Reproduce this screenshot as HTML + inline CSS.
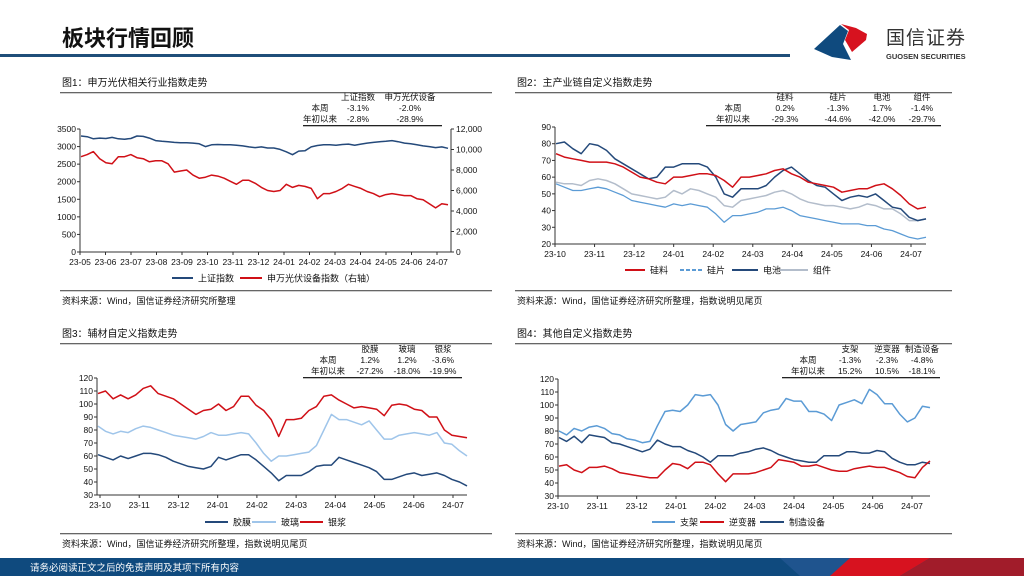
<!DOCTYPE html>
<html><head><meta charset="utf-8"><style>
html,body{margin:0;padding:0;background:#fff;}
svg{display:block;font-family:"Liberation Sans","Noto Sans CJK SC",sans-serif;}
</style></head><body>
<svg id="page" width="1024" height="576" viewBox="0 0 1024 576" xmlns="http://www.w3.org/2000/svg">
<g>
<text x="62" y="46" font-size="22" font-weight="bold" fill="#111">板块行情回顾</text>
<rect x="0" y="54" width="790" height="3" fill="#1f4e79"/>
<g>
<polygon points="814,49 840,25 848,31 843,44 851,60 832,57" fill="#0f4a7e"/>
<polygon points="841,24 856,28 867,34 866,40 852,52 845,40 849,30" fill="#d7121f"/>
<text x="886" y="44" font-size="19" fill="#333" letter-spacing="1">国信证券</text>
<text x="886" y="59" font-size="7.5" fill="#333" font-weight="bold">GUOSEN SECURITIES</text>
</g>
</g>
<g id="charts"></g>
<g>
<rect x="0" y="558" width="1024" height="18" fill="#0f4a7e"/>
<polygon points="780,558 860,558 880,576 800,576" fill="#2a5c9a" opacity="0.6"/>
<polygon points="850,558 930,558 900,576 830,576" fill="#d7121f"/>
<polygon points="930,558 1024,558 1024,576 900,576" fill="#a11c2a"/>
<text x="30" y="571" font-size="9.5" fill="#fff">请务必阅读正文之后的免责声明及其项下所有内容</text>
</g>
</svg>
<script>
// ---- Chart 1 data ----
const c1Ticks = ["23-05","23-06","23-07","23-08","23-09","23-10","23-11","23-12","24-01","24-02","24-03","24-04","24-05","24-06","24-07"];
const c1LeftTicks = [0,500,1000,1500,2000,2500,3000,3500];
const c1RightTicks = [0,2000,4000,6000,8000,10000,12000];
const c1SSE = [3300,3280,3220,3240,3230,3260,3220,3210,3230,3300,3290,3240,3170,3150,3140,3120,3110,3110,3100,3080,3000,3050,3060,3050,3050,3040,3020,2990,2970,2990,2960,2960,2920,2850,2770,2870,2880,2990,3030,3050,3050,3040,3060,3070,3040,3070,3100,3120,3140,3150,3170,3140,3100,3080,3050,3020,3000,2970,2990,2950];
const c1PV = [9300,9500,9800,9100,8700,8600,9300,9300,9500,9200,9100,8800,8900,8900,8600,7800,7900,8000,7500,7200,7300,7500,7400,7200,6900,6600,7000,7000,6700,6300,6000,5900,6000,6600,6300,6500,6400,6200,5200,5700,5700,5900,6200,6600,6400,6200,5900,5700,5400,5600,5700,5600,5500,5500,5200,5100,4700,4300,4700,4600];
// ---- Chart 2 data ----
const monthTicks = ["23-10","23-11","23-12","24-01","24-02","24-03","24-04","24-05","24-06","24-07"];
const c2YTicks = [20,30,40,50,60,70,80,90];
const c2Silicon = [74,72,71,70,69,69,69,68,66,63,60,59,57,56,60,60,61,62,62,61,58,54,60,60,61,62,64,65,62,60,57,56,55,54,51,52,53,53,55,56,53,49,44,41,42];
const c2Wafer = [56,54,52,52,53,54,53,51,49,46,45,44,43,42,44,43,44,43,42,38,33,37,37,38,39,41,41,42,40,37,36,35,34,33,32,32,32,31,31,29,28,26,24,23,24];
const c2Cell = [80,81,77,74,80,79,76,71,68,65,62,59,60,66,66,68,68,68,66,60,50,48,53,53,53,55,60,64,66,62,58,55,54,50,46,48,49,48,50,46,42,41,36,34,35];
const c2Module = [57,56,56,55,58,59,58,56,53,50,49,48,47,48,52,50,53,52,50,48,43,42,46,47,48,49,51,52,50,47,45,44,43,43,42,41,42,44,43,41,41,38,34,34,35];
// ---- Chart 3 data ----
const c3YTicks = [30,40,50,60,70,80,90,100,110,120];
const c3Film = [61,59,57,60,58,60,62,62,61,59,56,54,52,51,50,52,59,57,59,61,61,57,52,47,41,45,45,45,48,52,53,53,59,57,55,53,51,48,42,42,44,46,47,45,46,47,45,42,40,37];
const c3Glass = [83,79,77,79,78,81,83,82,80,78,76,75,74,73,75,78,76,76,77,78,77,70,62,56,60,60,61,62,63,68,80,92,88,88,86,84,87,80,73,73,76,77,78,77,76,78,70,69,64,60];
const c3Paste = [108,110,104,107,104,107,112,114,108,106,104,100,96,92,95,96,100,95,98,106,106,99,95,88,75,88,88,89,95,98,106,107,103,100,97,98,97,96,91,99,100,99,96,95,90,90,80,76,75,74];
// ---- Chart 4 data ----
const c4Bracket = [80,77,82,80,83,84,82,78,77,74,73,71,72,84,95,96,95,100,108,107,108,100,85,80,85,86,87,94,96,97,105,103,103,95,95,93,88,100,102,104,101,112,108,101,101,93,87,90,99,98];
const c4Inverter = [53,54,50,48,52,52,53,51,48,47,46,45,44,44,50,55,54,51,56,56,54,47,41,47,47,47,48,50,52,58,57,56,53,53,54,52,50,49,49,51,52,53,52,52,50,48,45,44,52,57];
const c4Equip = [75,72,76,71,77,76,75,71,70,68,66,64,66,73,70,68,68,65,63,60,56,61,61,61,63,64,66,67,65,62,60,58,57,56,56,61,61,61,64,64,63,63,65,64,59,56,54,54,56,55];

const NS="http://www.w3.org/2000/svg";
const root=document.getElementById('charts');
function el(tag,attrs,parent,txt){const e=document.createElementNS(NS,tag);for(const k in attrs)e.setAttribute(k,attrs[k]);if(txt!==undefined)e.textContent=txt;(parent||root).appendChild(e);return e;}
function linScale(d0,d1,r0,r1){return v=>r0+(v-d0)/(d1-d0)*(r1-r0);}
function series(g,vals,x0,x1,ys,color,name,dash,w){
  const xs=linScale(0,vals.length-1,x0,x1);
  const pts=vals.map((v,i)=>xs(i).toFixed(1)+","+ys(v).toFixed(1)).join(" ");
  const p=el('polyline',{points:pts,fill:'none',stroke:color,'stroke-width':w||1.5,'stroke-linejoin':'round'},g);
  if(dash)p.setAttribute('stroke-dasharray',dash);
  
  
}
function frame(g,title,tx,ty,x0,x1,source,sy){
  const t=el('text',{x:tx,y:ty,'font-size':10,fill:'#111'},g,title);
  
  
  el('rect',{x:tx-2,y:ty+6,width:x1-x0,height:1.3,fill:'#666'},g);
  el('rect',{x:tx-2,y:sy,width:x1-x0,height:1.3,fill:'#666'},g);
  const s=el('text',{x:tx,y:sy+14,'font-size':9,fill:'#111'},g,source);
  
  
}
function table(g,cols,colX,labelX,rows,y0,lx0,lx1){
  cols.forEach((c,i)=>{el('text',{x:colX[i],y:y0,'font-size':8.5,'text-anchor':'middle',fill:'#111'},g,c);});
  rows.forEach((r,j)=>{
    el('text',{x:labelX,y:y0+11*(j+1),'font-size':8.5,'text-anchor':'middle',fill:'#111'},g,r[0]);
    r[1].forEach((v,i)=>{el('text',{x:colX[i],y:y0+11*(j+1),'font-size':8.5,'text-anchor':'middle',fill:'#111'},g,v);});
  });
  el('rect',{x:lx0,y:y0+25,width:lx1-lx0,height:1.3,fill:'#222'},g);
}
function legend(g,items,y){
  items.forEach(it=>{
    const l=el('line',{x1:it[0],x2:it[1],y1:y,y2:y,stroke:it[3],'stroke-width':2},g);
    if(it[4])l.setAttribute('stroke-dasharray',it[4]);
    const t=el('text',{x:it[1]+5,y:y+3.5,'font-size':9,fill:'#111'},g,it[2]);
    
    
  });
}
function axes(g,x0,x1,y0,y1,ys,yTicks,xTicks,xt0,xt1,rightAxis){
  el('line',{x1:x0,x2:x0,y1:y0,y2:y1,stroke:'#333','stroke-width':1},g);
  el('line',{x1:x0,x2:x1,y1:y1,y2:y1,stroke:'#333','stroke-width':1},g);
  yTicks.forEach(v=>{
    const y=ys(v);
    el('line',{x1:x0-3,x2:x0,y1:y,y2:y,stroke:'#333'},g);
    el('text',{x:x0-4,y:y+3,'font-size':8.5,'text-anchor':'end',fill:'#111'},g,v);
  });
  const xs=linScale(0,xTicks.length-1,xt0,xt1);
  xTicks.forEach((t,i)=>{
    const x=xs(i);
    el('line',{x1:x,x2:x,y1:y1,y2:y1+3,stroke:'#333'},g);
    el('text',{x:x,y:y1+13,'font-size':8.5,'text-anchor':'middle',fill:'#111'},g,t);
  });
}
const BLUE='#24497a',RED='#d01017',LBLUE='#5b9bd5',GRAY='#b3bdcb',PBLUE='#9fc5ea';

// Chart 1
(function(){
  const g=el('g',{});
  
  
  frame(g,'图1：申万光伏相关行业指数走势',62,86,60,492,'资料来源：Wind，国信证券经济研究所整理',290);
  table(g,['上证指数','申万光伏设备'],[358,410],320,[['本周',['-3.1%','-2.0%']],['年初以来',['-2.8%','-28.9%']]],100,303,442);
  const x0=80,x1=451,yT=129,yB=252;
  const ysL=linScale(0,3500,yB,yT), ysR=linScale(0,12000,yB,yT);
  axes(g,x0,x1,yT,yB,ysL,c1LeftTicks,c1Ticks,80,437);
  el('line',{x1:x1,x2:x1,y1:yT,y2:yB,stroke:'#333'},g);
  c1RightTicks.forEach(v=>{const y=ysR(v);el('line',{x1:x1,x2:x1+3,y1:y,y2:y,stroke:'#333'},g);
    el('text',{x:x1+5,y:y+3,'font-size':8.5,fill:'#111'},g,v.toLocaleString('en-US'));});
  series(g,c1SSE,x0+1,x1-3,ysL,BLUE,'line-sse');
  series(g,c1PV,x0+1,x1-3,ysR,RED,'line-pv-equipment');
  legend(g,[[172,193,'上证指数',BLUE],[240,262,'申万光伏设备指数（右轴）',RED]],278);
})();
// Chart 2
(function(){
  const g=el('g',{});
  
  
  frame(g,'图2：主产业链自定义指数走势',517,86,515,952,'资料来源：Wind，国信证券经济研究所整理，指数说明见尾页',290);
  table(g,['硅料','硅片','电池','组件'],[785,838,882,922],733,[['本周',['0.2%','-1.3%','1.7%','-1.4%']],['年初以来',['-29.3%','-44.6%','-42.0%','-29.7%']]],100,706,941);
  const x0=555,x1=926,yT=127,yB=244;
  const ys=linScale(20,90,yB,yT);
  axes(g,x0,x1,yT,yB,ys,c2YTicks,monthTicks,555,911);
  series(g,c2Module,x0+1,x1,ys,GRAY,'line-module');
  series(g,c2Wafer,x0+1,x1,ys,LBLUE,'line-wafer',null,1.3);
  series(g,c2Cell,x0+1,x1,ys,BLUE,'line-cell');
  series(g,c2Silicon,x0+1,x1,ys,RED,'line-silicon');
  legend(g,[[625,645,'硅料',RED],[680,702,'硅片',LBLUE,'4,2'],[732,758,'电池',BLUE],[780,808,'组件',GRAY]],270);
})();
// Chart 3
(function(){
  const g=el('g',{});
  
  
  frame(g,'图3：辅材自定义指数走势',62,337,60,492,'资料来源：Wind，国信证券经济研究所整理，指数说明见尾页',533);
  table(g,['胶膜','玻璃','银浆'],[370,407,443],328,[['本周',['1.2%','1.2%','-3.6%']],['年初以来',['-27.2%','-18.0%','-19.9%']]],352,303,462);
  const x0=97,x1=467,yT=378,yB=495;
  const ys=linScale(30,120,yB,yT);
  axes(g,x0,x1,yT,yB,ys,c3YTicks,monthTicks,100,453);
  series(g,c3Glass,x0+1,x1,ys,PBLUE,'line-glass');
  series(g,c3Film,x0+1,x1,ys,BLUE,'line-film');
  series(g,c3Paste,x0+1,x1,ys,RED,'line-silver-paste');
  legend(g,[[205,228,'胶膜',BLUE],[252,276,'玻璃',PBLUE],[300,323,'银浆',RED]],522);
})();
// Chart 4
(function(){
  const g=el('g',{});
  
  
  frame(g,'图4：其他自定义指数走势',517,337,515,952,'资料来源：Wind，国信证券经济研究所整理，指数说明见尾页',533);
  table(g,['支架','逆变器','制造设备'],[850,887,922],808,[['本周',['-1.3%','-2.3%','-4.8%']],['年初以来',['15.2%','10.5%','-18.1%']]],352,782,940);
  const x0=558,x1=930,yT=379,yB=496;
  const ys=linScale(30,120,yB,yT);
  axes(g,x0,x1,yT,yB,ys,c3YTicks,monthTicks,558,912);
  series(g,c4Bracket,x0+1,x1,ys,LBLUE,'line-bracket');
  series(g,c4Equip,x0+1,x1,ys,BLUE,'line-manufacturing-equipment');
  series(g,c4Inverter,x0+1,x1,ys,RED,'line-inverter');
  legend(g,[[652,675,'支架',LBLUE],[700,724,'逆变器',RED],[760,784,'制造设备',BLUE]],522);
})();
</script>
</body></html>
